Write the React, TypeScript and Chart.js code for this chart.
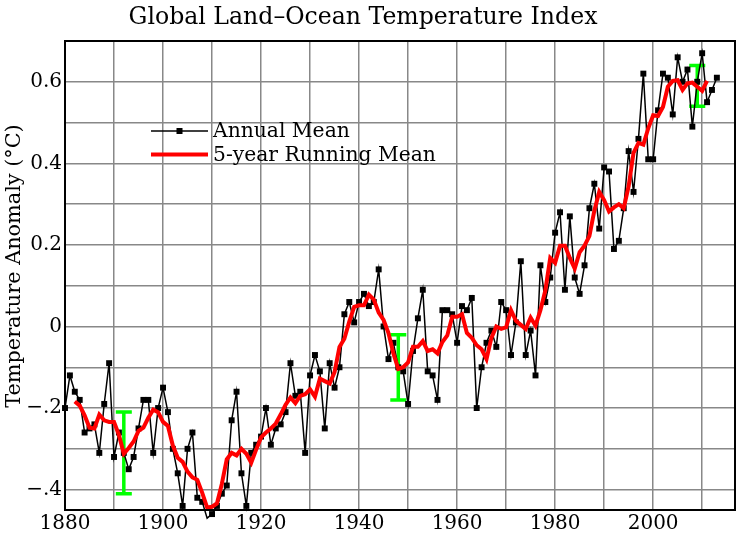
import React, { useEffect, useRef } from 'react';
import { Chart, registerables } from 'chart.js';

Chart.register(...registerables);

// ---- data ----
const TITLE = 'Global Land–Ocean Temperature Index';
const Y_TITLE = 'Temperature Anomaly (°C)';
const LEGEND_LABELS = ['Annual Mean', '5-year Running Mean'];

const ANNUAL_FIRST_YEAR = 1880;
const annualMean = [
  -0.20, -0.12, -0.16, -0.18, -0.26, -0.25, -0.24, -0.31, -0.19, -0.09,
  -0.32, -0.26, -0.31, -0.35, -0.32, -0.25, -0.18, -0.18, -0.31, -0.20,
  -0.15, -0.21, -0.30, -0.36, -0.44, -0.30, -0.26, -0.42, -0.43, -0.47,
  -0.46, -0.44, -0.41, -0.39, -0.23, -0.16, -0.36, -0.44, -0.31, -0.29,
  -0.27, -0.20, -0.29, -0.25, -0.24, -0.21, -0.09, -0.17, -0.16, -0.31,
  -0.12, -0.07, -0.11, -0.25, -0.09, -0.15, -0.10, 0.03, 0.06, 0.01,
  0.06, 0.08, 0.05, 0.06, 0.14, 0.00, -0.08, -0.04, -0.10, -0.11,
  -0.19, -0.06, 0.02, 0.09, -0.11, -0.12, -0.18, 0.04, 0.04, 0.03,
  -0.04, 0.05, 0.04, 0.07, -0.20, -0.10, -0.04, -0.01, -0.05, 0.06,
  0.04, -0.07, 0.01, 0.16, -0.07, -0.01, -0.12, 0.15, 0.06, 0.12,
  0.23, 0.28, 0.09, 0.27, 0.12, 0.08, 0.15, 0.29, 0.35, 0.24,
  0.39, 0.38, 0.19, 0.21, 0.29, 0.43, 0.33, 0.46, 0.62, 0.41,
  0.41, 0.53, 0.62, 0.61, 0.52, 0.66, 0.60, 0.63, 0.49, 0.60,
  0.67, 0.55, 0.58, 0.61,
];

const RUNNING_FIRST_YEAR = 1882;
const runningMean = [
  -0.184, -0.194, -0.218, -0.248, -0.250, -0.216, -0.230, -0.234, -0.234, -0.266,
  -0.312, -0.298, -0.282, -0.256, -0.248, -0.224, -0.204, -0.210, -0.234, -0.244,
  -0.292, -0.322, -0.332, -0.356, -0.370, -0.376, -0.408, -0.444, -0.442, -0.434,
  -0.386, -0.326, -0.310, -0.316, -0.300, -0.312, -0.334, -0.302, -0.272, -0.260,
  -0.250, -0.238, -0.216, -0.192, -0.174, -0.188, -0.170, -0.166, -0.154, -0.172,
  -0.128, -0.134, -0.140, -0.112, -0.050, -0.030, 0.012, 0.048, 0.052, 0.052,
  0.078, 0.066, 0.034, 0.016, -0.016, -0.066, -0.104, -0.100, -0.088, -0.050,
  -0.050, -0.036, -0.060, -0.056, -0.066, -0.038, -0.022, 0.024, 0.024, 0.030,
  -0.016, -0.028, -0.046, -0.056, -0.080, -0.028, 0.000, -0.006, -0.002, 0.040,
  0.014, 0.004, -0.006, 0.022, 0.002, 0.040, 0.088, 0.168, 0.156, 0.198,
  0.198, 0.168, 0.142, 0.182, 0.198, 0.222, 0.284, 0.330, 0.310, 0.282,
  0.292, 0.300, 0.290, 0.344, 0.426, 0.450, 0.446, 0.486, 0.518, 0.516,
  0.538, 0.588, 0.602, 0.604, 0.580, 0.596, 0.598, 0.588, 0.578, 0.602,
];

const errorYears = [1892, 1948, 2009];
const errorLow = [-0.41, -0.18, 0.54];
const errorHigh = [-0.21, -0.02, 0.64];

// grid lines (every 10 years / every 0.1 °C) and the labelled ticks
const xGridValues = [1880, 1890, 1900, 1910, 1920, 1930, 1940, 1950, 1960, 1970, 1980, 1990, 2000, 2010];
const yGridValues = [-0.4, -0.3, -0.2, -0.1, 0, 0.1, 0.2, 0.3, 0.4, 0.5, 0.6, 0.7];
const xTickValues = [1880, 1900, 1920, 1940, 1960, 1980, 2000];
const xTickLabels = ['1880', '1900', '1920', '1940', '1960', '1980', '2000'];
const yTickValues = [0.6, 0.4, 0.2, 0, -0.2, -0.4];
const yTickLabels = ['0.6', '0.4', '0.2', '0', '\u2212.2', '\u2212.4'];

const X_MIN = 1880;
const X_MAX = 2016.7;
const Y_MIN = -0.45;
const Y_MAX = 0.7;

// ---- styles ----
const FONT = "'DejaVu Serif', serif";
const GRID = '#888888';
const RED = '#ff0000';
const GREEN = '#00ff00';

function lookupLabel(values: number[], labels: string[], v: number): string {
  for (let i = 0; i < values.length; i++) {
    if (Math.abs(values[i] - v) < 1e-6) return labels[i];
  }
  return '';
}

const overlayPlugin = {
  id: 'overlay',
  beforeDatasetsDraw(chart: any) {
    const { ctx, scales } = chart;
    const xs = scales.x;
    const ys = scales.y;
    ctx.save();
    ctx.strokeStyle = GREEN;
    ctx.lineWidth = 3.5;
    ctx.lineCap = 'butt';
    for (let i = 0; i < errorYears.length; i++) {
      const x = xs.getPixelForValue(errorYears[i]);
      const yl = ys.getPixelForValue(errorLow[i]);
      const yh = ys.getPixelForValue(errorHigh[i]);
      ctx.beginPath();
      ctx.moveTo(x, yh);
      ctx.lineTo(x, yl);
      ctx.moveTo(x - 8, yh);
      ctx.lineTo(x + 8, yh);
      ctx.moveTo(x - 8, yl);
      ctx.lineTo(x + 8, yl);
      ctx.stroke();
    }
    ctx.restore();
  },
  afterDraw(chart: any) {
    const { ctx, chartArea } = chart;
    ctx.save();
    // frame
    ctx.strokeStyle = '#000';
    ctx.lineWidth = 2;
    ctx.strokeRect(chartArea.left, chartArea.top, chartArea.right - chartArea.left, chartArea.bottom - chartArea.top);

    // title
    ctx.fillStyle = '#000';
    ctx.font = `23.6px ${FONT}`;
    ctx.textAlign = 'center';
    ctx.textBaseline = 'alphabetic';
    ctx.fillText(TITLE, 363, 24);

    // y title
    ctx.save();
    ctx.translate(19.5, 266);
    ctx.rotate(-Math.PI / 2);
    ctx.font = `20.8px ${FONT}`;
    ctx.textAlign = 'center';
    ctx.fillText(Y_TITLE, 0, 0);
    ctx.restore();

    // legend
    ctx.font = `20.3px ${FONT}`;
    ctx.textAlign = 'left';
    ctx.strokeStyle = '#000';
    ctx.lineWidth = 1.5;
    ctx.beginPath();
    ctx.moveTo(151, 131);
    ctx.lineTo(208, 131);
    ctx.stroke();
    ctx.fillRect(176.5, 128, 6, 6);
    ctx.fillText(LEGEND_LABELS[0], 213, 136.5);

    ctx.strokeStyle = RED;
    ctx.lineWidth = 4;
    ctx.beginPath();
    ctx.moveTo(151, 154.5);
    ctx.lineTo(208, 154.5);
    ctx.stroke();
    ctx.fillText(LEGEND_LABELS[1], 213, 160.8);
    ctx.restore();
  },
};

export default function App() {
  const canvasRef = useRef<HTMLCanvasElement | null>(null);

  useEffect(() => {
    const canvas = canvasRef.current;
    if (!canvas) return;
    const annualPoints = annualMean.map((v, i) => ({ x: ANNUAL_FIRST_YEAR + i, y: v }));
    const runningPoints = runningMean.map((v, i) => ({ x: RUNNING_FIRST_YEAR + i, y: v }));

    const chart = new Chart(canvas, {
      type: 'line',
      data: {
        datasets: [
          {
            label: LEGEND_LABELS[1],
            data: runningPoints,
            borderColor: RED,
            borderWidth: 4,
            pointRadius: 0,
            tension: 0,
            clip: false as any,
          },
          {
            label: LEGEND_LABELS[0],
            data: annualPoints,
            borderColor: '#000',
            borderWidth: 1.5,
            pointStyle: 'rect',
            pointRadius: 4.2,
            pointBackgroundColor: '#000',
            pointBorderWidth: 0,
            tension: 0,
            clip: false as any,
          },
        ],
      },
      options: {
        responsive: false,
        animation: false,
        devicePixelRatio: 1,
        events: [],
        layout: { padding: { top: 41, right: 8, left: 0, bottom: 0 } },
        plugins: {
          legend: { display: false },
          tooltip: { enabled: false },
          title: { display: false },
        },
        scales: {
          x: {
            type: 'linear',
            min: X_MIN,
            max: X_MAX,
            afterFit: (s: any) => { s.height = 25; },
            afterBuildTicks: (s: any) => { s.ticks = xGridValues.map((v) => ({ value: v })); },
            grid: { color: GRID, lineWidth: 1.5, drawTicks: false },
            border: { display: true, color: '#000', width: 2 },
            ticks: {
              autoSkip: false,
              maxRotation: 0,
              padding: 2,
              color: '#000',
              font: { family: FONT, size: 20 },
              callback: (v: any) => lookupLabel(xTickValues, xTickLabels, Number(v)),
            },
          },
          y: {
            type: 'linear',
            min: Y_MIN,
            max: Y_MAX,
            afterFit: (s: any) => { s.width = 65; },
            afterBuildTicks: (s: any) => { s.ticks = yGridValues.map((v) => ({ value: v })); },
            grid: { color: GRID, lineWidth: 1.5, drawTicks: false },
            border: { display: true, color: '#000', width: 2 },
            ticks: {
              autoSkip: false,
              padding: 3,
              color: '#000',
              font: { family: FONT, size: 20 },
              callback: (v: any) => lookupLabel(yTickValues, yTickLabels, Number(v)),
            },
          },
        },
      },
      plugins: [overlayPlugin],
    });
    return () => chart.destroy();
  }, []);

  return (
    <div style={{ position: 'absolute', left: 0, top: 0, width: 743, height: 535, background: '#fff' }}>
      <canvas ref={canvasRef} width={743} height={535} style={{ width: 743, height: 535, display: 'block' }} />
    </div>
  );
}
